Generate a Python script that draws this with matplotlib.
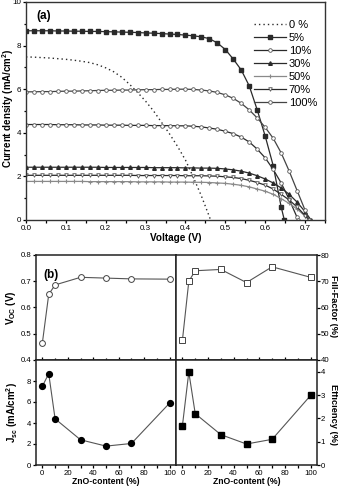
import matplotlib
matplotlib.use("Agg")
import matplotlib.pyplot as plt
from matplotlib.ticker import MultipleLocator

plt.rcParams['font.family'] = ['Liberation Sans', 'DejaVu Sans']
plt.rcParams['mathtext.fontset'] = 'custom'
plt.rcParams['mathtext.rm'] = 'Liberation Sans'
plt.rcParams['mathtext.bf'] = 'Liberation Sans:bold'

# ---------------- data: J-V curves (panel a) ----------------
voltage = [0.00, 0.02, 0.04, 0.06, 0.08, 0.10, 0.12, 0.14, 0.16, 0.18,
           0.20, 0.22, 0.24, 0.26, 0.28, 0.30, 0.32, 0.34, 0.36, 0.38,
           0.40, 0.42, 0.44, 0.46, 0.48, 0.50, 0.52, 0.54, 0.56, 0.58,
           0.60, 0.62, 0.64, 0.66, 0.68, 0.70]

j_0 = [7.48, 7.47, 7.45, 7.43, 7.40, 7.37, 7.33, 7.28, 7.22, 7.12,
       6.98, 6.80, 6.55, 6.22, 5.85, 5.45, 5.00, 4.48, 3.95, 3.38,
       2.75, 1.95, 1.10, 0.15]
voc_0 = 0.463
j_5 = [8.68, 8.68, 8.68, 8.68, 8.67, 8.67, 8.66, 8.66, 8.65, 8.65,
       8.64, 8.63, 8.62, 8.61, 8.60, 8.58, 8.57, 8.55, 8.53, 8.51,
       8.48, 8.45, 8.40, 8.32, 8.12, 7.82, 7.38, 6.88, 6.15, 5.05,
       3.85, 2.50, 0.60]
voc_5 = 0.648
j_10 = [4.38, 4.38, 4.38, 4.38, 4.37, 4.37, 4.37, 4.36, 4.36, 4.36,
        4.35, 4.35, 4.35, 4.34, 4.34, 4.34, 4.33, 4.33, 4.33, 4.32,
        4.32, 4.30, 4.27, 4.22, 4.16, 4.07, 3.96, 3.80, 3.58, 3.25,
        2.85, 2.32, 1.70, 0.95, 0.12]
voc_10 = 0.682
j_30 = [2.42, 2.42, 2.42, 2.42, 2.42, 2.42, 2.42, 2.42, 2.42, 2.42,
        2.41, 2.41, 2.41, 2.41, 2.41, 2.41, 2.40, 2.40, 2.40, 2.40,
        2.39, 2.39, 2.38, 2.38, 2.37, 2.34, 2.30, 2.24, 2.15, 2.03,
        1.88, 1.70, 1.47, 1.18, 0.82, 0.38]
voc_30 = 0.715
j_50 = [1.77, 1.77, 1.77, 1.77, 1.77, 1.77, 1.77, 1.77, 1.76, 1.76,
        1.76, 1.76, 1.76, 1.76, 1.75, 1.75, 1.75, 1.75, 1.74, 1.74,
        1.74, 1.73, 1.73, 1.72, 1.70, 1.68, 1.64, 1.59, 1.52, 1.42,
        1.32, 1.18, 0.98, 0.76, 0.50, 0.18]
voc_50 = 0.712
j_70 = [2.05, 2.05, 2.05, 2.05, 2.05, 2.05, 2.05, 2.05, 2.05, 2.05,
        2.05, 2.05, 2.05, 2.05, 2.04, 2.04, 2.04, 2.04, 2.04, 2.04,
        2.03, 2.03, 2.03, 2.02, 2.01, 1.98, 1.95, 1.90, 1.82, 1.72,
        1.60, 1.42, 1.18, 0.92, 0.60, 0.20]
voc_70 = 0.710
j_100 = [5.88, 5.88, 5.89, 5.89, 5.90, 5.91, 5.91, 5.92, 5.93, 5.94,
         5.95, 5.95, 5.96, 5.96, 5.97, 5.98, 5.98, 5.99, 5.99, 6.00,
         6.00, 5.99, 5.96, 5.92, 5.85, 5.74, 5.58, 5.35, 5.05, 4.68,
         4.25, 3.75, 3.08, 2.25, 1.35, 0.45]
voc_100 = 0.710

labels_a = ['0 %', '5%', '10%', '30%', '50%', '70%', '100%']

# ---------------- data: panel b ----------------
zno_content = [0, 5, 10, 30, 50, 70, 100]
voc = [0.465, 0.650, 0.686, 0.715, 0.712, 0.709, 0.708]
jsc = [7.5, 8.7, 4.4, 2.4, 1.8, 2.05, 5.9]
fill_factor = [47.5, 70.0, 74.0, 74.5, 69.5, 75.5, 71.5]
efficiency = [1.68, 3.98, 2.2, 1.3, 0.9, 1.1, 2.98]

# ---------------- figure ----------------
fig = plt.figure(figsize=(3.38, 4.87), dpi=100)

W, H = 338.0, 487.0
def rect(x0, y0, x1, y1):
    return [x0 / W, 1 - y1 / H, (x1 - x0) / W, (y1 - y0) / H]

ax = fig.add_axes(rect(26, 2, 325, 220))

dark = '#2a2a2a'
gray = '#8a8a8a'
lw = 0.9
ms = 2.6
TS = 5.8   # tick label size (top)
TSB = 5.6  # tick label size (bottom panels)
LS = 7.0   # axis label size

def curve(j, voc_end):
    v = voltage[:len(j)] + [voc_end]
    return v, list(j) + [0.0]

v, j = curve(j_0, voc_0)
ax.plot(v, j, color=dark, ls=(0, (1, 2.2)), lw=1.0, label=labels_a[0])
v, j = curve(j_5, voc_5)
ax.plot(v, j, color=dark, lw=lw, marker='s', ms=2.2, mfc=dark, mec=dark, label=labels_a[1])
v, j = curve(j_10, voc_10)
ax.plot(v, j, color=dark, lw=lw, marker='o', ms=ms, mfc='white', mec='#555555', mew=0.6, label=labels_a[2])
v, j = curve(j_30, voc_30)
ax.plot(v, j, color=dark, lw=lw, marker='^', ms=ms, mfc=dark, mec=dark, label=labels_a[3])
v, j = curve(j_50, voc_50)
ax.plot(v, j, color=gray, lw=lw, marker='+', ms=3, mec=gray, mew=0.8, label=labels_a[4])
v, j = curve(j_70, voc_70)
ax.plot(v, j, color=dark, lw=lw, marker='v', ms=ms, mfc='white', mec='#555555', mew=0.6, label=labels_a[5])
v, j = curve(j_100, voc_100)
ax.plot(v, j, color='#444444', lw=lw, marker='o', ms=ms, mfc='white', mec='#555555', mew=0.6, label=labels_a[6])

ax.set_xlim(0, 0.75)
ax.set_ylim(0, 10)
ax.xaxis.set_major_locator(MultipleLocator(0.1))
ax.xaxis.set_minor_locator(MultipleLocator(0.05))
ax.yaxis.set_major_locator(MultipleLocator(2))
ax.yaxis.set_minor_locator(MultipleLocator(1))
ax.xaxis.set_major_formatter(plt.FuncFormatter(lambda x, p: f'{x:.1f}'))
ax.tick_params(which='both', direction='out', labelsize=TS, width=0.9, colors='black')
ax.tick_params(which='major', length=2.5, pad=1.0)
ax.tick_params(which='minor', length=1.8)
ax.set_xlabel('Voltage (V)', fontsize=7.2, fontweight='bold', labelpad=0.5)
fig.text(8 / W, 1 - 108 / H, 'Current density (mA/cm$^\\mathbf{2}$)', fontsize=LS,
         fontweight='bold', rotation=90, ha='center', va='center')
for s in ax.spines.values():
    s.set_linewidth(1.0)
    s.set_color('#333333')
ax.text(0.035, 0.965, '(a)', transform=ax.transAxes, fontsize=8.5, fontweight='bold', va='top')
leg = ax.legend(loc='upper right', bbox_to_anchor=(1.0, 0.955), frameon=False, fontsize=8,
                handlelength=2.8, handletextpad=0.3, labelspacing=0.28, borderaxespad=0.3)

# ---------------- panel b ----------------
ax_voc = fig.add_axes(rect(36, 255, 176, 360))
ax_jsc = fig.add_axes(rect(36, 360, 176, 465))
ax_ff = fig.add_axes(rect(176, 255, 317, 360))
ax_eff = fig.add_axes(rect(176, 360, 317, 465))

lc = '#555555'
ax_voc.plot(zno_content, voc, color=lc, lw=0.8, marker='o', ms=4.2, mfc='white', mec='#444444', mew=0.7)
ax_jsc.plot(zno_content, jsc, color=lc, lw=0.8, marker='o', ms=4.2, mfc='black', mec='black')
ax_ff.plot(zno_content, fill_factor, color=lc, lw=0.8, marker='s', ms=4.0, mfc='white', mec='#444444', mew=0.7)
ax_eff.plot(zno_content, efficiency, color=lc, lw=0.8, marker='s', ms=4.0, mfc='black', mec='black')

for a in (ax_voc, ax_jsc, ax_ff, ax_eff):
    a.set_xlim(-5, 105)
    a.xaxis.set_major_locator(MultipleLocator(20))
    a.xaxis.set_minor_locator(MultipleLocator(10))
    a.tick_params(which='both', labelsize=TSB, width=0.9)
    a.tick_params(which='major', length=2.5, pad=1.0)
    a.tick_params(which='minor', length=1.8)
    for s in a.spines.values():
        s.set_linewidth(1.1)
        s.set_color('#222222')

for a in (ax_voc, ax_ff):
    a.tick_params(axis='x', which='both', direction='in', labelbottom=False)
for a in (ax_jsc, ax_eff):
    a.tick_params(axis='x', which='both', direction='out')
    a.set_xlabel('ZnO-content (%)', fontsize=6.2, fontweight='bold', labelpad=0)

ax_voc.set_ylim(0.4, 0.8)
ax_voc.yaxis.set_major_locator(MultipleLocator(0.1))
ax_voc.yaxis.set_major_formatter(plt.FuncFormatter(lambda x, p: f'{x:.1f}'))
ax_voc.set_ylabel('V$_{\\mathbf{OC}}$ (V)', fontsize=LS, fontweight='bold', labelpad=2)
ax_voc.text(0.05, 0.87, '(b)', transform=ax_voc.transAxes, fontsize=8.5, fontweight='bold', va='top')

ax_jsc.set_ylim(0, 10)
ax_jsc.set_yticks([0, 2, 4, 6, 8])
ax_jsc.set_ylabel('J$_{\\mathbf{sc}}$ (mA/cm$^\\mathbf{2}$)', fontsize=LS, fontweight='bold', labelpad=5)

for a in (ax_ff, ax_eff):
    a.yaxis.tick_right()
    a.tick_params(axis='y', which='both', direction='out', left=False)
    a.tick_params(axis='y', which='major', length=2, pad=0.5)

ax_ff.set_ylim(40, 80)
ax_ff.yaxis.set_major_locator(MultipleLocator(10))
ax_eff.set_ylim(0, 4.5)
ax_eff.set_yticks([0, 1, 2, 3, 4])
fig.text(333.5 / W, 1 - 306 / H, 'Fill-Factor (%)', fontsize=6.7, fontweight='bold',
         rotation=270, ha='center', va='center')
fig.text(333.5 / W, 1 - 414 / H, 'Efficiency (%)', fontsize=6.7, fontweight='bold',
         rotation=270, ha='center', va='center')

for a in (ax_voc, ax_jsc):
    a.tick_params(axis='y', which='both', direction='out')

fig.savefig('out.png', dpi=100)
